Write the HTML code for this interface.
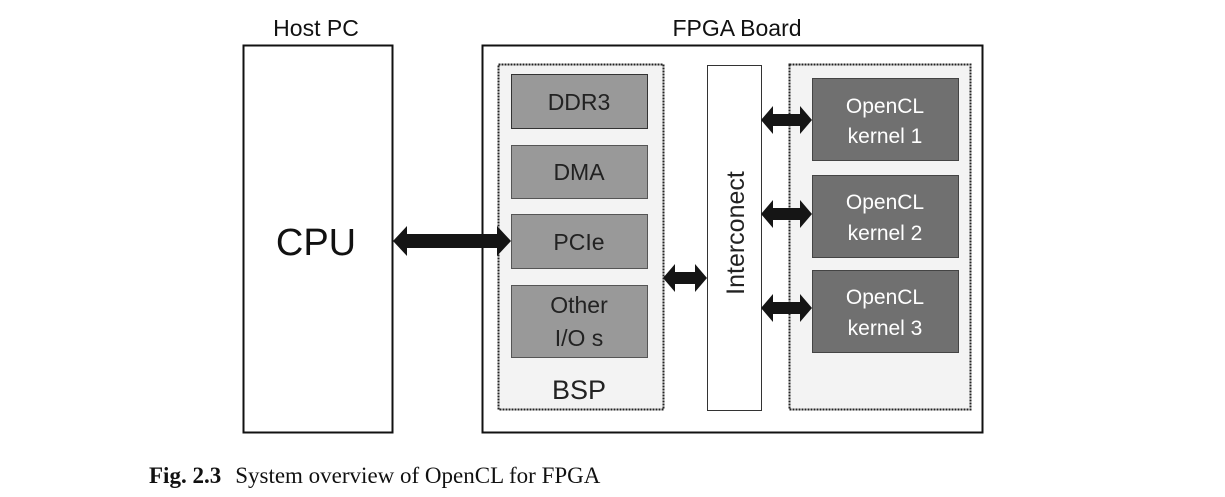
<!DOCTYPE html>
<html><head><meta charset="utf-8"><style>
html,body{margin:0;padding:0;background:#fff;width:1225px;height:497px;overflow:hidden}
svg{display:block}
</style></head><body>
<svg width="1225" height="497" viewBox="0 0 1225 497" xmlns="http://www.w3.org/2000/svg">
<g font-family="'Liberation Sans', sans-serif">
<text x="316" y="36" font-size="23" text-anchor="middle" fill="#111">Host PC</text>
<text x="737" y="36" font-size="23" text-anchor="middle" fill="#111">FPGA Board</text>
<rect x="243.5" y="45.5" width="149" height="387" fill="#fff" stroke="#111" stroke-width="2"/>
<text x="316" y="255" font-size="38" text-anchor="middle" fill="#111">CPU</text>
<rect x="482.5" y="45.5" width="500" height="387" fill="#fff" stroke="#111" stroke-width="2"/>
<rect x="498.5" y="64.5" width="165" height="345" fill="#f3f3f3" stroke="#222" stroke-width="2" stroke-dasharray="2,1"/>
<rect x="511.5" y="74.5" width="136" height="54" fill="#999" stroke="#333"/>
<rect x="511.5" y="145.5" width="136" height="53" fill="#999" stroke="#555"/>
<rect x="511.5" y="214.5" width="136" height="54" fill="#999" stroke="#555"/>
<rect x="511.5" y="285.5" width="136" height="72" fill="#999" stroke="#555"/>
<g font-size="23" text-anchor="middle" fill="#222">
<text x="579" y="110">DDR3</text>
<text x="579" y="180">DMA</text>
<text x="579" y="250">PCIe</text>
<text x="579" y="313">Other</text>
<text x="579" y="346">I/O s</text>
<text x="579" y="399" font-size="27">BSP</text>
<text x="888" y="399" font-size="27">kernels</text>
</g>
<rect x="707.5" y="65.5" width="54" height="345" fill="#fff" stroke="#333"/>
<text transform="translate(744,233) rotate(-90)" font-size="25" text-anchor="middle" fill="#222">Interconect</text>
<rect x="789.5" y="64.5" width="181" height="345" fill="#f3f3f3" stroke="#222" stroke-width="2" stroke-dasharray="2,1"/>
<rect x="812.5" y="78.5" width="146" height="82" fill="#707070" stroke="#444"/>
<rect x="812.5" y="175.5" width="146" height="82" fill="#707070" stroke="#444"/>
<rect x="812.5" y="270.5" width="146" height="82" fill="#707070" stroke="#444"/>
<g font-size="21" text-anchor="middle" fill="#fff">
<text x="885" y="113">OpenCL</text><text x="885" y="143">kernel 1</text>
<text x="885" y="209">OpenCL</text><text x="885" y="240">kernel 2</text>
<text x="885" y="304">OpenCL</text><text x="885" y="335">kernel 3</text>
</g>
<g fill="#151515">
<polygon points="393,241 407,226 407,234 497,234 497,226 511,241 497,256 497,248 407,248 407,256"/>
<polygon points="663,278 675,264 675,272 695,272 695,264 707,278 695,292 695,284 675,284 675,292"/>
<polygon points="761,120 773,106 773,114 800,114 800,106 812,120 800,134 800,126 773,126 773,134"/>
<polygon points="761,214 773,200 773,208 800,208 800,200 812,214 800,228 800,220 773,220 773,228"/>
<polygon points="761,308 773,294 773,302 800,302 800,294 812,308 800,322 800,314 773,314 773,322"/>
</g>
</g>
<text x="149" y="483" font-family="'Liberation Serif', serif" font-size="23" fill="#111"><tspan font-weight="bold">Fig. 2.3</tspan><tspan dx="14">System overview of OpenCL for FPGA</tspan></text>
</svg>
</body></html>
